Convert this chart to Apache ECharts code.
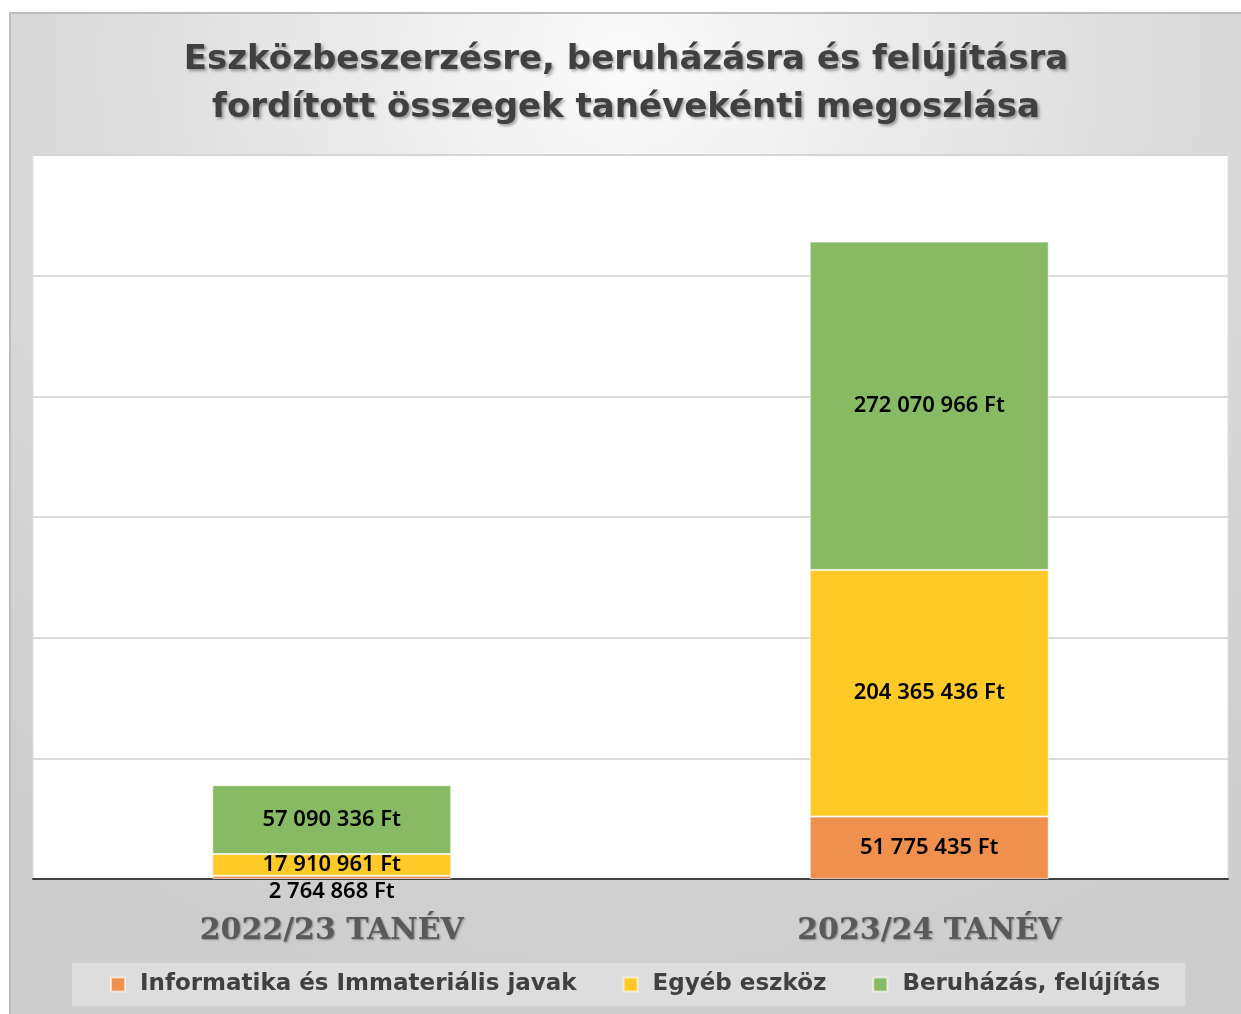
<!DOCTYPE html>
<html>
<head>
<meta charset="utf-8">
<script src="https://cdn.jsdelivr.net/npm/echarts@6/dist/echarts.min.js"></script>
<style>
  html, body { margin: 0; padding: 0; background: #fff; }
  #main { position: absolute; left: 9px; top: 12px; width: 1232px; height: 1002px;
          box-sizing: border-box; border-left: 2px solid #bdbdbd; border-top: 2px solid #bdbdbd; }
</style>
</head>
<body>
<div id="main"></div>
<script>
// adatok
var categories = ['2022/23 TANÉV', '2023/24 TANÉV'];
var seriesNames = ['Informatika és Immateriális javak', 'Egyéb eszköz', 'Beruházás, felújítás'];
var informatika = [2764868, 51775435];
var egyeb = [17910961, 204365436];
var beruhazas = [57090336, 272070966];
var colors = ['#f0904f', '#ffca28', '#87ba63'];

var myChart = echarts.init(document.getElementById('main'));

function ft(v) {
    return String(v).replace(/\B(?=(\d{3})+(?!\d))/g, ' ') + ' Ft';
}

var labelStyle = {
    show: true,
    position: 'inside',
    color: '#000',
    fontFamily: 'Noto Sans',
    fontWeight: 600,
    fontSize: 22,
    formatter: function (p) { return ft(p.value); }
};

function makeSeries(name, values, color, idx) {
    return {
        name: name,
        type: 'bar',
        stack: 'total',
        barWidth: '40%',
        itemStyle: { color: color, borderColor: 'rgba(255,255,255,0.6)', borderWidth: 1 },
        label: labelStyle,
        data: values.map(function (v, i) {
            // az első tanév kis értékének felirata a tengely alá kerül
            if (idx === 0 && i === 0) {
                return { value: v, label: { position: 'bottom', distance: 2 } };
            }
            return v;
        })
    };
}

var option = {
    backgroundColor: {
        type: 'radial', x: 0.5, y: 0.05, r: 0.95,
        colorStops: [
            { offset: 0, color: '#fbfbfb' },
            { offset: 0.55, color: '#dcdcdc' },
            { offset: 1, color: '#cdcdcd' }
        ]
    },
    title: {
        text: 'Eszközbeszerzésre, beruházásra és felújításra\nfordított összegek tanévekénti megoszlása',
        left: 'center',
        top: 17,
        textStyle: {
            fontFamily: 'DejaVu Sans',
            fontWeight: 'bold',
            fontSize: 34,
            lineHeight: 48,
            color: '#404040',
            textShadowColor: 'rgba(0,0,0,0.35)',
            textShadowBlur: 3,
            textShadowOffsetX: 2,
            textShadowOffsetY: 2
        }
    },
    legend: {
        data: seriesNames,
        left: 61,
        top: 949,
        padding: [10, 25, 10, 38],
        backgroundColor: '#dddddd',
        itemWidth: 14,
        itemHeight: 14,
        itemGap: 46,
        icon: 'rect',
        textStyle: {
            fontFamily: 'DejaVu Sans',
            fontWeight: 'bold',
            fontSize: 23,
            color: '#404040',
            padding: [0, 0, 0, 10]
        }
    },
    grid: {
        left: 22,
        top: 141,
        width: 1195,
        height: 724,
        show: true,
        backgroundColor: '#ffffff',
        borderColor: '#e0e0e0',
        borderWidth: 1
    },
    xAxis: {
        type: 'category',
        data: categories,
        axisLine: { lineStyle: { color: '#404040', width: 2 } },
        axisTick: { show: false },
        axisLabel: {
            margin: 37,
            fontFamily: 'DejaVu Serif',
            fontWeight: 'bold',
            fontSize: 30,
            color: '#5a5a5a',
            textShadowColor: 'rgba(0,0,0,0.35)',
            textShadowBlur: 2,
            textShadowOffsetX: 1,
            textShadowOffsetY: 1
        }
    },
    yAxis: {
        type: 'value',
        min: 0,
        max: 600000000,
        interval: 100000000,
        axisLabel: { show: false },
        axisLine: { show: false },
        axisTick: { show: false },
        splitLine: { lineStyle: { color: '#cfcfcf', width: 1.5 } }
    },
    series: [
        makeSeries(seriesNames[0], informatika, colors[0], 0),
        makeSeries(seriesNames[1], egyeb, colors[1], 1),
        makeSeries(seriesNames[2], beruhazas, colors[2], 2)
    ]
};

myChart.setOption(option);
</script>
</body>
</html>
